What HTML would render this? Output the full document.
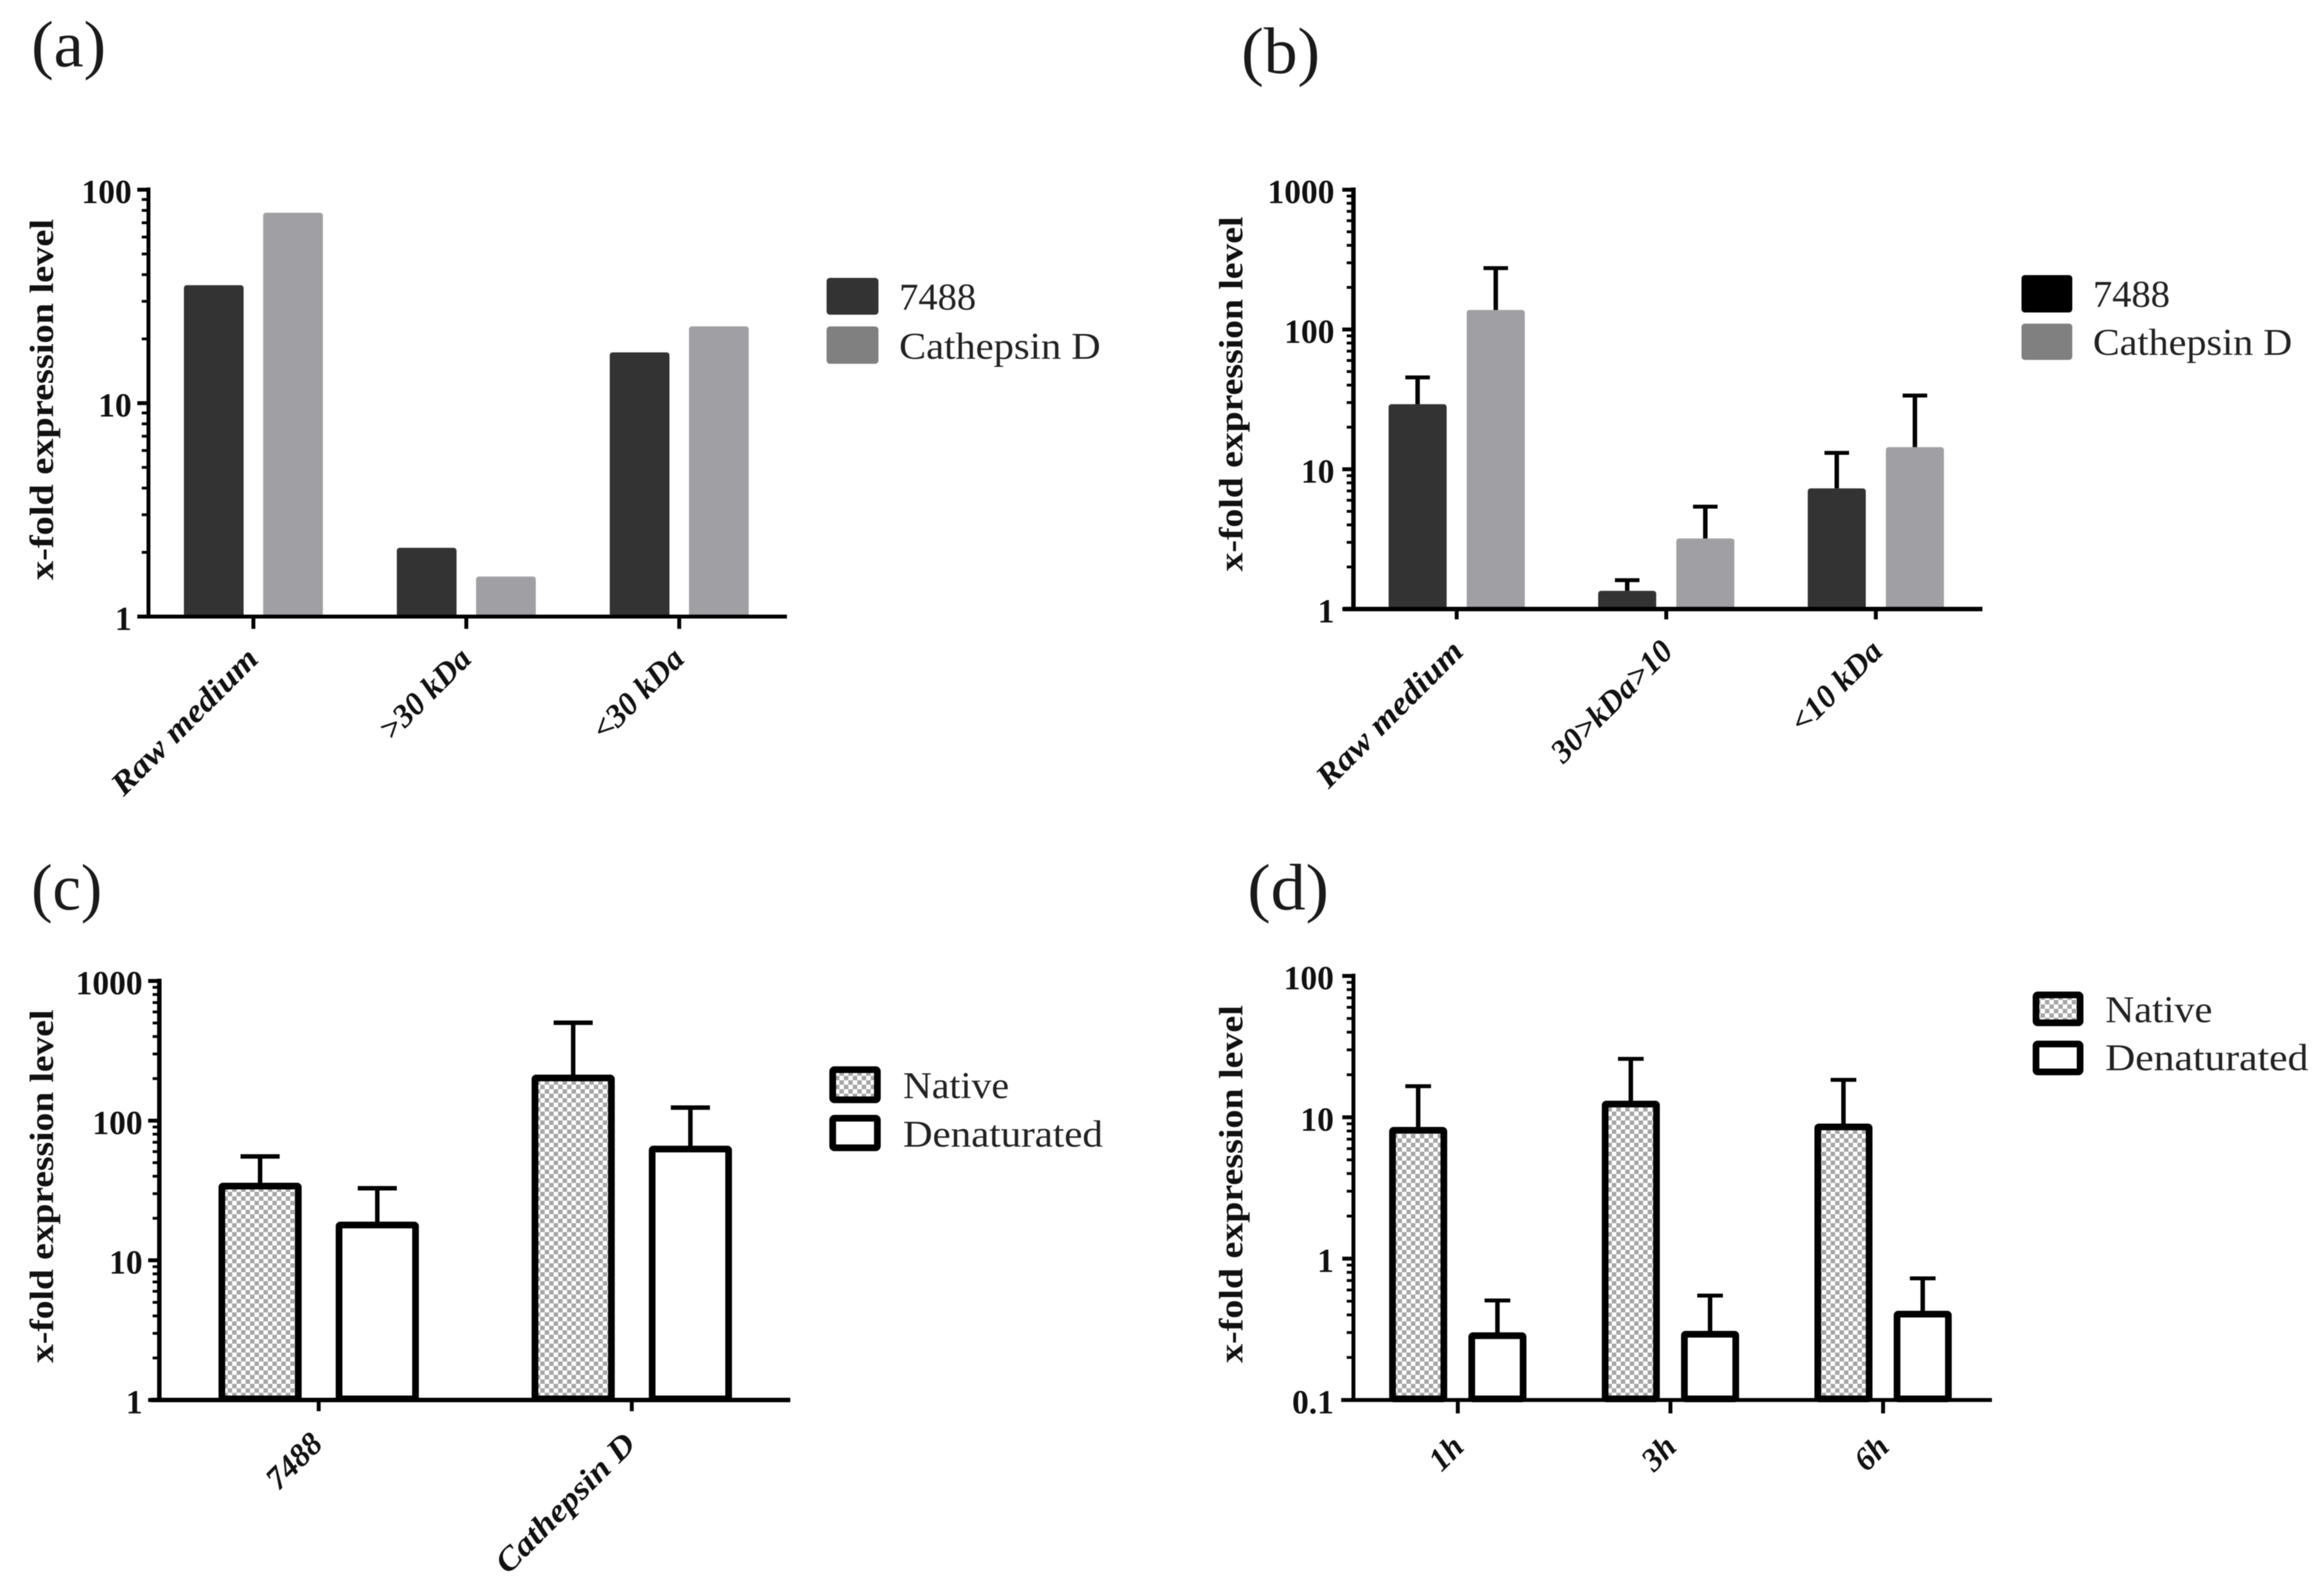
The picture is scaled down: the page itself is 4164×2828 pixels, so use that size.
<!DOCTYPE html>
<html lang="en">
<head>
<meta charset="utf-8">
<title>x-fold expression level panels</title>
<style>
html,body{margin:0;padding:0;background:#fff;width:4164px;height:2828px;overflow:hidden}
svg{display:block;filter:blur(0.9px)}
text{font-family:"Liberation Serif",serif;fill:#111}
.panel-letter{font-size:118px;fill:#1a1a1a}
.y-title{font-size:60px;font-weight:700}
.y-tick{font-size:60px;font-weight:700;text-anchor:end}
.x-tick{font-size:58px;font-weight:700;font-style:italic;text-anchor:end}
.legend-text{font-size:68px;fill:#222}
</style>
</head>
<body>
<svg id="figure" xmlns="http://www.w3.org/2000/svg" width="4164" height="2828" viewBox="0 0 4164 2828">
<defs>
<pattern id="checker" width="16" height="16" patternUnits="userSpaceOnUse">
<rect width="16" height="16" fill="#fff"/>
<rect x="0" y="0" width="8" height="8" fill="#a6a6a6"/>
<rect x="8" y="8" width="8" height="8" fill="#a6a6a6"/>
</pattern>
</defs>
<rect width="4164" height="2828" fill="#fff"/>
<text class="panel-letter" x="56" y="119" textLength="134" lengthAdjust="spacingAndGlyphs">(a)</text>
<text class="panel-letter" x="2224" y="131" textLength="141" lengthAdjust="spacingAndGlyphs">(b)</text>
<text class="panel-letter" x="56" y="1630" textLength="127" lengthAdjust="spacingAndGlyphs">(c)</text>
<text class="panel-letter" x="2235" y="1630" textLength="146" lengthAdjust="spacingAndGlyphs">(d)</text>
</svg>
<script>
// ---- chart data ----
var categoriesA = ["Raw medium", ">30 kDa", "<30 kDa"];
var series7488A = [35.7, 2.1, 17.3];
var seriesCathepsinA = [78, 1.54, 22.9];
var tickLabelsA = ["1", "10", "100"];

var categoriesB = ["Raw medium", "30>kDa>10", "<10 kDa"];
var series7488B = [29.2, 1.35, 7.3];
var seriesCathepsinB = [138, 3.2, 14.4];
var errorTop7488B = [45.4, 1.61, 13.1];
var errorTopCathepsinB = [275, 5.4, 33.7];
var tickLabelsB = ["1", "10", "100", "1000"];

var categoriesC = ["7488", "Cathepsin D"];
var seriesNativeC = [34, 202];
var seriesDenaturedC = [17.9, 62.6];
var errorTopNativeC = [55.4, 502];
var errorTopDenaturedC = [32.8, 124];
var tickLabelsC = ["1", "10", "100", "1000"];

var categoriesD = ["1h", "3h", "6h"];
var seriesNativeD = [8.09, 12.4, 8.55];
var seriesDenaturedD = [0.285, 0.292, 0.405];
var errorTopNativeD = [16.6, 25.9, 18.4];
var errorTopDenaturedD = [0.506, 0.548, 0.725];
var tickLabelsD = ["0.1", "1", "10", "100"];

// ---- drawing ----
var NS = "http://www.w3.org/2000/svg";
var root = document.getElementById("figure");

function mk(parent, tag, attrs, txt) {
  var el = document.createElementNS(NS, tag);
  for (var k in attrs) el.setAttribute(k, attrs[k]);
  if (txt !== undefined) el.textContent = txt;
  parent.appendChild(el);
  return el;
}

function drawPanel(p) {
  var g = mk(root, "g", {});
  
  

  var minLog = Math.log10(Number(p.ticks[0]));
  var maxLog = Math.log10(Number(p.ticks[p.ticks.length - 1]));
  function yScale(v) {
    return p.yBottom + (Math.log10(v) - minLog) / (maxLog - minLog) * (p.yTop - p.yBottom);
  }
  function xScale(i) { return p.xTicks0 + i * p.xStep; }

  // bars and error bars
  p.series.forEach(function (s, si) {
    p.categories.forEach(function (c, i) {
      var cx = xScale(i) + (si === 0 ? -1 : 1) * (p.barW + p.gap) / 2;
      var top = yScale(s.values[i]);
      if (s.errors) {
        var et = yScale(s.errors[i]);
        var stem = mk(g, "line", {x1: cx, x2: cx, y1: top, y2: et, stroke: "#000", "stroke-width": p.stemW});
        
        
        var cap = mk(g, "line", {x1: cx - p.capHalf, x2: cx + p.capHalf, y1: et, y2: et, stroke: "#000", "stroke-width": p.capW});
        
        
      }
      var h = p.barStroke ? p.yBottom - top - 2 : p.yBottom - top + 3;
      var bar = mk(g, "rect", {
        x: cx - p.barW / 2, y: top, width: p.barW, height: Math.max(0, h), rx: p.barStroke ? 2 : 5,
        fill: s.fill, stroke: p.barStroke ? "#000" : "none", "stroke-width": p.barStroke || 0
      });
      
      
    });
  });

  // minor + major y ticks
  for (var d = Math.round(minLog); d < Math.round(maxLog); d++) {
    for (var m = 2; m < 10; m++) {
      var my = yScale(m * Math.pow(10, d));
      var mt = mk(g, "line", {x1: p.axisX - 12, x2: p.axisX, y1: my, y2: my, stroke: "#000", "stroke-width": 5});
      
      
    }
  }
  p.ticks.forEach(function (t) {
    var ty = yScale(Number(t));
    var mj = mk(g, "line", {x1: p.axisX - 20, x2: p.axisX, y1: ty, y2: ty, stroke: "#000", "stroke-width": 7});
    
    
    var lab = mk(g, "text", {"class": "y-tick", x: p.axisX - p.labelGap, y: ty + 24}, t);
    
    
  });

  // axes
  var ya = mk(g, "line", {x1: p.axisX, x2: p.axisX, y1: p.yTop - 4, y2: p.yBottom + 3, stroke: "#000", "stroke-width": p.axisW});
  
  
  var xa = mk(g, "line", {x1: p.xAxisStart, x2: p.xAxisEnd, y1: p.yBottom, y2: p.yBottom, stroke: "#000", "stroke-width": p.axisW});
  
  

  // x ticks + rotated labels
  p.categories.forEach(function (c, i) {
    var tx = xScale(i);
    var xt = mk(g, "line", {x1: tx, x2: tx, y1: p.yBottom, y2: p.tickBottom, stroke: "#000", "stroke-width": 7});
    
    
    var lx = tx + p.labelDx, ly = p.yBottom + p.labelDy;
    var lab = mk(g, "text", {"class": "x-tick", x: lx, y: ly, transform: "rotate(-45 " + lx + " " + ly + ")"}, c);
    
    
    // long lowercase words are wider in the original typeface
    if (/[a-z]{4,}/.test(c)) {
      lab.setAttribute('textLength', lab.getComputedTextLength() * 1.1);
      lab.setAttribute('lengthAdjust', 'spacingAndGlyphs');
    }
  });

  // y title
  var tt = mk(g, "text", {"class": "y-title", x: p.titleX, y: p.titleMid, "text-anchor": "middle",
    textLength: p.titleLen, lengthAdjust: "spacingAndGlyphs",
    transform: "rotate(-90 " + p.titleX + " " + p.titleMid + ")"}, "x-fold expression level");
  
  

  // legend
  p.legend.forEach(function (l) {
    var sw = mk(g, "rect", {
      x: l.x + (l.stroke ? 6 : 0), y: l.y + (l.stroke ? 6 : 0),
      width: l.w - (l.stroke ? 12 : 0), height: l.h - (l.stroke ? 12 : 0), rx: l.stroke ? 3 : 6,
      fill: l.fill, stroke: l.stroke ? "#000" : "none", "stroke-width": l.stroke ? 12 : 0
    });
    
    
    var lt = mk(g, "text", {"class": "legend-text", x: l.tx, y: l.ty, textLength: l.tl, lengthAdjust: "spacingAndGlyphs"}, l.label);
    
    
  });
}

var DARK = "#333333", LIGHT = "#a0a0a4", PAT = "url(#checker)";

drawPanel({
  id: "a", categories: categoriesA, ticks: tickLabelsA,
  series: [{key: "7488", values: series7488A, fill: DARK}, {key: "cathepsin-d", values: seriesCathepsinA, fill: LIGHT}],
  axisX: 266, yTop: 340, yBottom: 1105, xAxisStart: 246, xAxisEnd: 1410, axisW: 7,
  xTicks0: 454, xStep: 381.5, tickBottom: 1127, barW: 107, gap: 35, labelGap: 30,
  stemW: 8, capW: 7, capHalf: 22, labelDx: 12, labelDy: 79,
  titleX: 95, titleMid: 716, titleLen: 647,
  legend: [
    {x: 1481, y: 498, w: 93, h: 66, fill: "#333333", label: "7488", tx: 1611, ty: 555, tl: 138},
    {x: 1481, y: 585, w: 93, h: 67, fill: "#808080", label: "Cathepsin D", tx: 1611, ty: 643, tl: 361}
  ]
});

drawPanel({
  id: "b", categories: categoriesB, ticks: tickLabelsB,
  series: [{key: "7488", values: series7488B, errors: errorTop7488B, fill: DARK}, {key: "cathepsin-d", values: seriesCathepsinB, errors: errorTopCathepsinB, fill: LIGHT}],
  axisX: 2425, yTop: 340, yBottom: 1091.5, xAxisStart: 2407, xAxisEnd: 3552, axisW: 8,
  xTicks0: 2610, xStep: 375.5, tickBottom: 1110, barW: 104, gap: 36, labelGap: 34,
  stemW: 8, capW: 7, capHalf: 22, labelDx: 15, labelDy: 79,
  titleX: 2226, titleMid: 706, titleLen: 636,
  legend: [
    {x: 3622, y: 493, w: 91, h: 67, fill: "#000000", label: "7488", tx: 3750, ty: 550, tl: 138},
    {x: 3622, y: 580, w: 91, h: 65, fill: "#808080", label: "Cathepsin D", tx: 3750, ty: 636, tl: 357}
  ]
});

drawPanel({
  id: "c", categories: categoriesC, ticks: tickLabelsC,
  series: [{key: "native", values: seriesNativeC, errors: errorTopNativeC, fill: PAT}, {key: "denaturated", values: seriesDenaturedC, errors: errorTopDenaturedC, fill: "#fff"}],
  axisX: 285.5, yTop: 1758, yBottom: 2509, xAxisStart: 270, xAxisEnd: 1416, axisW: 8,
  xTicks0: 571, xStep: 561, tickBottom: 2529, barW: 137, gap: 73, barStroke: 12, labelGap: 30,
  stemW: 8, capW: 8, capHalf: 35, labelDx: 10, labelDy: 82,
  titleX: 95, titleMid: 2126, titleLen: 633,
  legend: [
    {x: 1486, y: 1911, w: 92, h: 66, fill: PAT, stroke: true, label: "Native", tx: 1618, ty: 1968, tl: 190},
    {x: 1486, y: 1998, w: 92, h: 65, fill: "#fff", stroke: true, label: "Denaturated", tx: 1618, ty: 2055, tl: 358}
  ]
});

drawPanel({
  id: "d", categories: categoriesD, ticks: tickLabelsD,
  series: [{key: "native", values: seriesNativeD, errors: errorTopNativeD, fill: PAT}, {key: "denaturated", values: seriesDenaturedD, errors: errorTopDenaturedD, fill: "#fff"}],
  axisX: 2425, yTop: 1749, yBottom: 2509, xAxisStart: 2403, xAxisEnd: 3569, axisW: 7,
  xTicks0: 2612, xStep: 381, tickBottom: 2533, barW: 92, gap: 50, barStroke: 12, labelGap: 35,
  stemW: 8, capW: 7, capHalf: 23, labelDx: 14, labelDy: 87,
  titleX: 2226, titleMid: 2122, titleLen: 641,
  legend: [
    {x: 3642, y: 1777, w: 91, h: 62, fill: PAT, stroke: true, label: "Native", tx: 3772, ty: 1832, tl: 192},
    {x: 3642, y: 1865, w: 91, h: 62, fill: "#fff", stroke: true, label: "Denaturated", tx: 3772, ty: 1918, tl: 364}
  ]
});
</script>
</body>
</html>
